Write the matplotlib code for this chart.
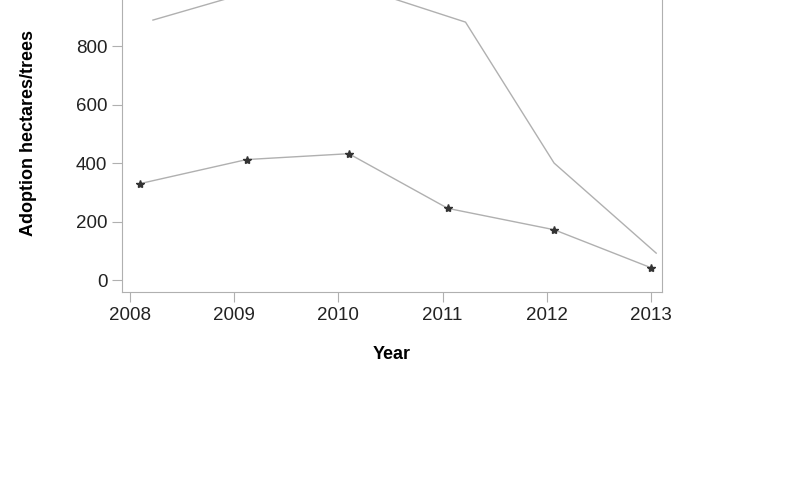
import matplotlib.pyplot as plt

plt.rcParams["font.family"] = ["Liberation Sans", "DejaVu Sans"]

years = [2008, 2009, 2010, 2011, 2012, 2013]
# series with star markers
adopt_x = [2008.1, 2009.12, 2010.1, 2011.05, 2012.07, 2013.0]
adopt_y = [330, 412, 432, 245, 172, 42]
# upper plain line (partly above the visible area)
trees_x = [2008.22, 2009.2, 2010.2, 2011.22, 2012.07, 2013.05]
trees_y = [889, 990, 1000, 882, 400, 92]

fig = plt.figure(figsize=(8, 5), dpi=100)
ax = fig.add_axes([0.1525, 0.416, 0.675, 0.638])

grey = "#b0b0b0"
ax.plot(trees_x, trees_y, color=grey, lw=1)
ax.plot(adopt_x, adopt_y, color=grey, lw=1)
ax.plot(adopt_x, adopt_y, ls="none", marker="*", ms=6, color="#333333")

ax.set_xlim(2008 - 8 / 104, 2013 + 11 / 104)
ax.set_ylim(-41, 1050)
ax.set_xticks(years)
ax.set_yticks([0, 200, 400, 600, 800])
ax.tick_params(colors=grey, labelcolor="#222222", labelsize=13.5, length=7)
for s in ax.spines.values():
    s.set_color(grey)

ax.set_xlabel("Year", fontsize=13, fontweight="bold", labelpad=16)
ax.set_ylabel("Adoption hectares/trees", fontsize=13, fontweight="bold", labelpad=28)

fig.savefig("out.png", dpi=100)
